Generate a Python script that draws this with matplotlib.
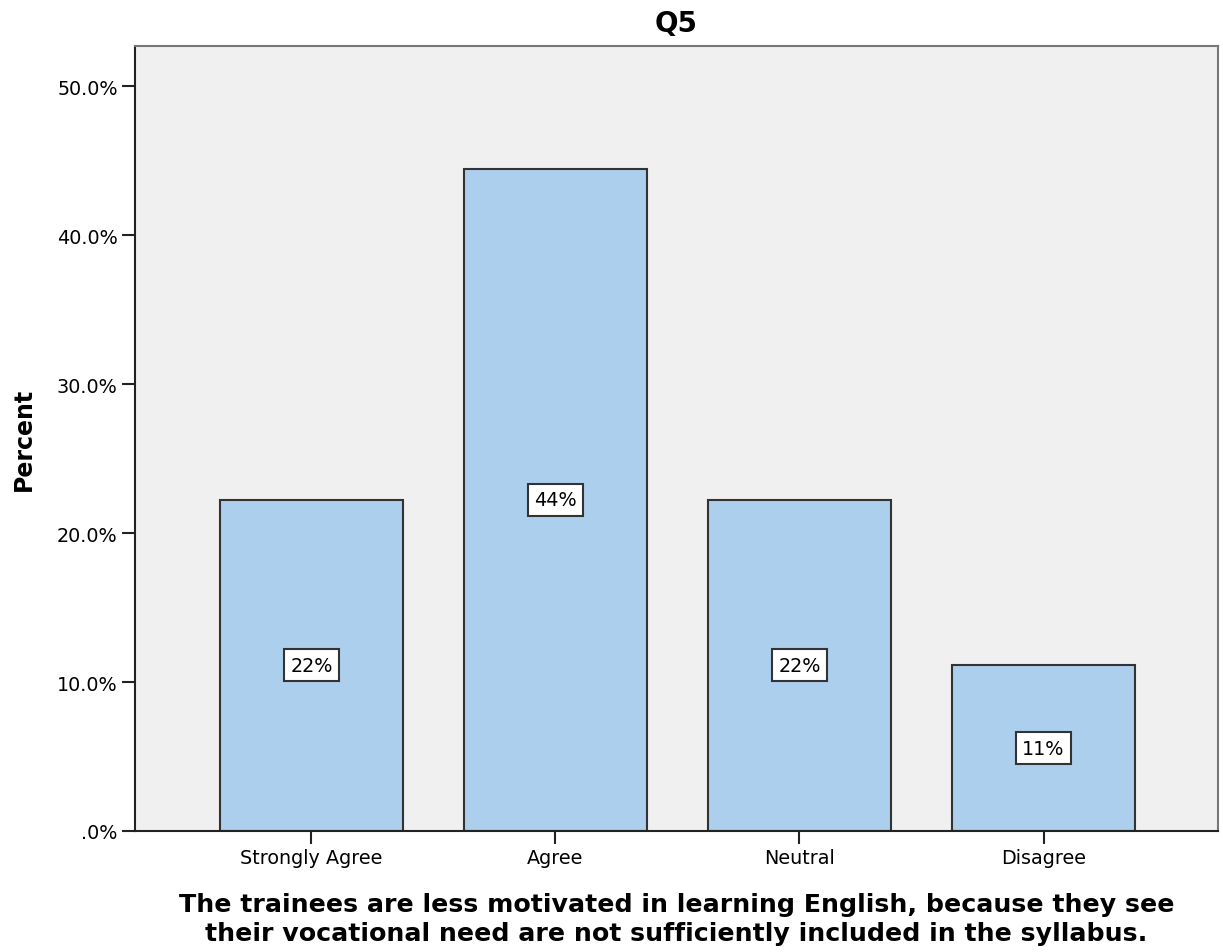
import matplotlib.pyplot as plt

plt.rcParams['font.family'] = ['DejaVu Sans']

# Survey responses for Q5
categories = ['Strongly Agree', 'Agree', 'Neutral', 'Disagree']
percents = [22.22, 44.44, 22.22, 11.11]
bar_labels = ['22%', '44%', '22%', '11%']
y_ticks = [0, 10, 20, 30, 40, 50]
y_tick_labels = ['.0%', '10.0%', '20.0%', '30.0%', '40.0%', '50.0%']

fig = plt.figure(figsize=(12.23, 9.53), dpi=100)
ax = fig.add_axes([0.1104, 0.127, 0.8855, 0.8237])
ax.set_facecolor('#f0f0f0')

x = list(range(len(categories)))
ax.bar(x, percents, width=0.75, color='#adcfee', edgecolor='#333333', linewidth=1.5, zorder=2)

# value boxes in the middle of each bar
for xi, val, lab in zip(x, percents, bar_labels):
    ax.text(xi, val / 2, lab, ha='center', va='center', fontsize=13.8, zorder=3,
            bbox=dict(boxstyle='square,pad=0.34', facecolor='white', edgecolor='#333333', linewidth=1.5))

ax.set_xlim(-0.723, 3.715)
ax.set_ylim(0, 52.7)
ax.set_xticks(x)
ax.set_xticklabels(categories, fontsize=13.8)
ax.set_yticks(y_ticks)
ax.set_yticklabels(y_tick_labels, fontsize=13.8)
ax.tick_params(axis='both', length=9.5, width=1.5, color='#222222', pad=3)

ax.spines['left'].set_color('#222222')
ax.spines['bottom'].set_color('#222222')
ax.spines['top'].set_color('#777777')
ax.spines['right'].set_color('#777777')
for s in ax.spines.values():
    s.set_linewidth(1.5)

ax.set_title('Q5', fontsize=20, fontweight='bold', pad=10.5)
ax.set_ylabel('Percent', fontsize=17, fontweight='bold', labelpad=15)
ax.set_xlabel('The trainees are less motivated in learning English, because they see\n'
              'their vocational need are not sufficiently included in the syllabus.',
              fontsize=18.2, fontweight='bold', labelpad=18, linespacing=1.27)

fig.savefig('out.png', dpi=100)
